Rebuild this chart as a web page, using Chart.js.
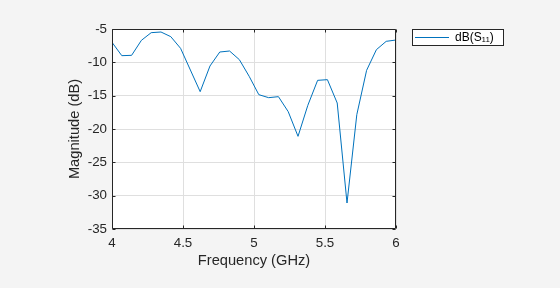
<!DOCTYPE html>
<html>
<head>
<meta charset="utf-8">
<script src="https://cdn.jsdelivr.net/npm/chart.js@4/dist/chart.umd.min.js"></script>
<style>
html,body{margin:0;padding:0;background:#f4f4f4;}
#c{display:block;}
</style>
</head>
<body>
<canvas id="c" width="560" height="288"></canvas>
<script>
// ---- data ----
const frequencyGHz = [4.000, 4.069, 4.138, 4.207, 4.276, 4.345, 4.414, 4.483, 4.552, 4.621,
                      4.690, 4.759, 4.828, 4.897, 4.966, 5.034, 5.103, 5.172, 5.241, 5.310,
                      5.379, 5.448, 5.517, 5.586, 5.655, 5.724, 5.793, 5.862, 5.931, 6.000];
const magnitudeDB = [-7.0, -9.0, -8.95, -6.7, -5.55, -5.45, -6.15, -7.9, -11.15, -14.4,
                     -10.55, -8.45, -8.3, -9.6, -12.1, -14.85, -15.3, -15.15, -17.4, -21.1,
                     -16.45, -12.7, -12.6, -16.1, -31.1, -17.85, -11.2, -8.1, -6.85, -6.65];
const xTickValues = [4, 4.5, 5, 5.5, 6];
const xTickLabels = ['4', '4.5', '5', '5.5', '6'];
const yTickValues = [-35, -30, -25, -20, -15, -10, -5];
const yTickLabels = ['-35', '-30', '-25', '-20', '-15', '-10', '-5'];
const seriesLabel = 'dB(S\u2081\u2081)';
const xAxisTitle = 'Frequency (GHz)';
const yAxisTitle = 'Magnitude (dB)';

// ---- styling ----
const FONT = "'Liberation Sans', Arial, Helvetica, sans-serif";
const AX = '#262626';
const GRID = '#dfdfdf';
const LINE = '#0072BD';
const BG = '#f4f4f4';

const frame = {
  id: 'frame',
  beforeLayout(chart) {
    const lg = chart.legend;
    if (lg && !lg._fixed) {
      const f = lg.fit.bind(lg);
      lg.fit = function () { f(); this.width = 164; };
      lg._fixed = true;
    }
  },
  afterLayout(chart) {
    const lg = chart.legend;
    if (!lg) return;
    lg.left = 405; lg.right = lg.left + lg.width;
    lg.top = 21.5; lg.bottom = lg.top + lg.height;
  },
  beforeDraw(chart) {
    const ctx = chart.ctx, a = chart.chartArea;
    ctx.save();
    ctx.fillStyle = BG;
    ctx.fillRect(0, 0, chart.width, chart.height);
    ctx.fillStyle = '#ffffff';
    ctx.fillRect(a.left, a.top, a.right - a.left, a.bottom - a.top);
    // legend box
    ctx.font = '12px ' + FONT;
    const tw = ctx.measureText(seriesLabel).width;
    const bx0 = 412.5, by0 = 29.5, bx1 = Math.max(455 + tw + 4.5, 503.5), by1 = 45.5;
    ctx.fillRect(bx0, by0, bx1 - bx0, by1 - by0);
    ctx.strokeStyle = AX; ctx.lineWidth = 1;
    ctx.strokeRect(bx0, by0, bx1 - bx0, by1 - by0);
    ctx.restore();
  },
  afterDatasetsDraw(chart) {
    const ctx = chart.ctx, a = chart.chartArea;
    const xs = chart.scales.x, ys = chart.scales.y;
    ctx.save();
    ctx.strokeStyle = AX; ctx.lineWidth = 1;
    ctx.beginPath();
    const L = Math.round(a.left) + 0.5, R = Math.round(a.right) - 0.5;
    const T = Math.round(a.top) + 0.5, B = Math.round(a.bottom) - 0.5;
    ctx.rect(L, T, R - L, B - T);
    const tl = 3;
    xTickValues.forEach(v => {
      const px = Math.round(xs.getPixelForValue(v)) + 0.5;
      ctx.moveTo(px, B); ctx.lineTo(px, B - tl);
      ctx.moveTo(px, T); ctx.lineTo(px, T + tl);
    });
    yTickValues.forEach(v => {
      const py = Math.round(ys.getPixelForValue(v)) + 0.5;
      ctx.moveTo(L, py); ctx.lineTo(L + tl, py);
      ctx.moveTo(R, py); ctx.lineTo(R - tl, py);
    });
    ctx.stroke();
    ctx.restore();
  }
};

new Chart(document.getElementById('c'), {
  type: 'line',
  data: {
    datasets: [{
      label: seriesLabel,
      data: frequencyGHz.map((f, i) => ({ x: f, y: magnitudeDB[i] })),
      borderColor: LINE,
      backgroundColor: LINE,
      borderWidth: 1,
      pointRadius: 0,
      tension: 0,
      fill: false
    }]
  },
  options: {
    responsive: false,
    animation: false,
    devicePixelRatio: 1,
    layout: { padding: { top: 29, right: 0, bottom: 0, left: 0 } },
    scales: {
      x: {
        type: 'linear', min: 4, max: 6,
        afterBuildTicks: s => { s.ticks = xTickValues.map(v => ({ value: v })); },
        afterFit: s => { s.height = 59; },
        grid: { color: GRID, drawTicks: false, lineWidth: 1 },
        border: { display: false },
        ticks: {
          color: AX, font: { family: FONT, size: 13.33 }, padding: 6, maxRotation: 0, autoSkip: false,
          callback: v => { const i = xTickValues.indexOf(v); return i >= 0 ? xTickLabels[i] : ''; }
        },
        title: { display: true, text: xAxisTitle, color: AX, font: { family: FONT, size: 14.67 }, padding: { top: 0, bottom: 18 } }
      },
      y: {
        type: 'linear', min: -35, max: -5,
        afterBuildTicks: s => { s.ticks = yTickValues.map(v => ({ value: v })); },
        afterFit: s => { s.width = 112; },
        grid: { color: GRID, drawTicks: false, lineWidth: 1 },
        border: { display: false },
        ticks: {
          color: AX, font: { family: FONT, size: 13.33 }, padding: 5, autoSkip: false,
          callback: v => { const i = yTickValues.indexOf(v); return i >= 0 ? yTickLabels[i] : ''; }
        },
        title: { display: true, text: yAxisTitle, color: AX, font: { family: FONT, size: 14.67 }, padding: { top: 66, bottom: 0 } }
      }
    },
    plugins: {
      legend: {
        position: 'right', align: 'start',
        labels: { usePointStyle: true, pointStyle: 'line', pointStyleWidth: 34, padding: 10, color: '#000000', font: { family: FONT, size: 12 } }
      },
      tooltip: { enabled: false }
    }
  },
  plugins: [frame]
});
</script>
</body>
</html>
